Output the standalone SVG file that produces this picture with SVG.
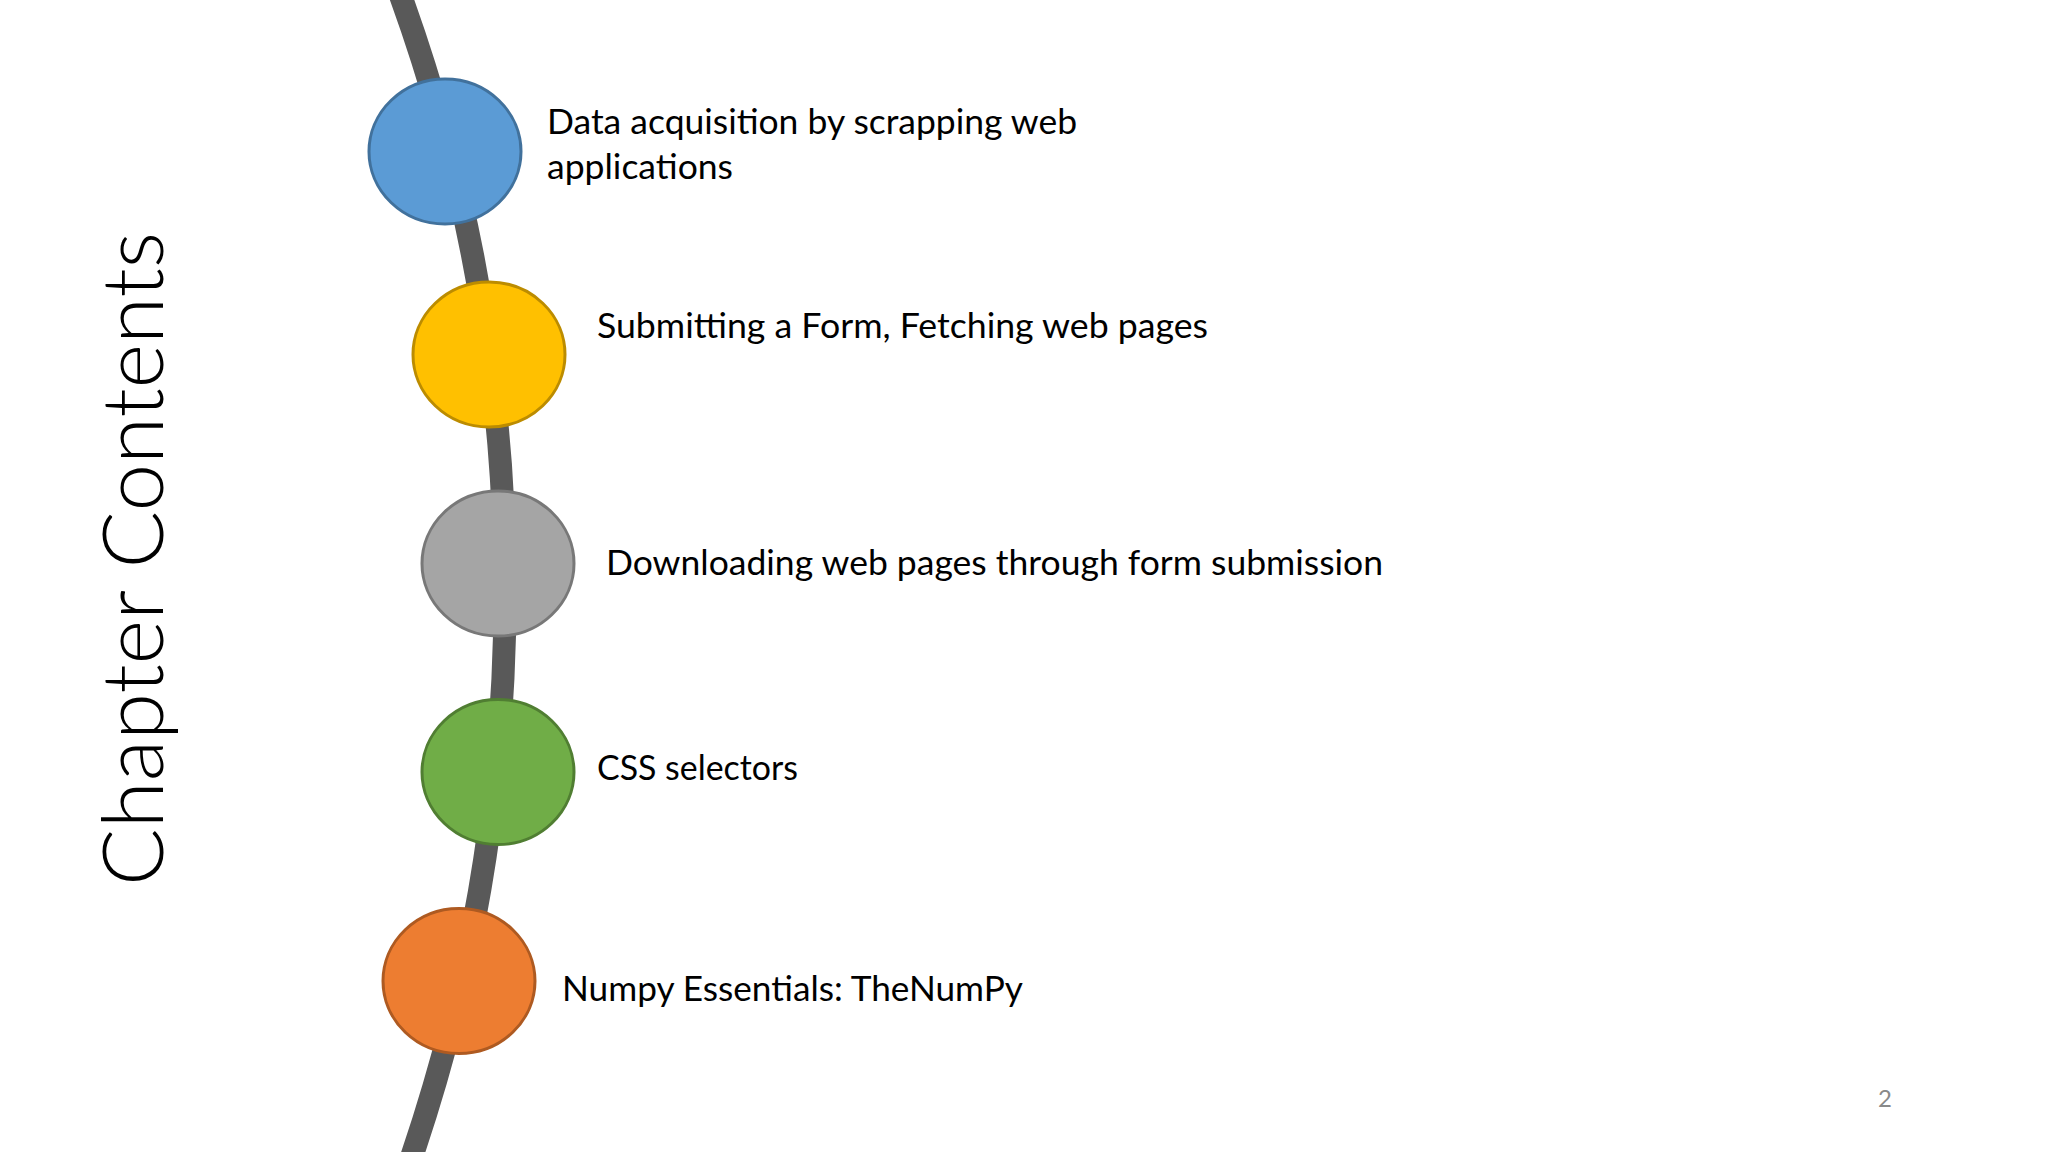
<svg xmlns="http://www.w3.org/2000/svg" width="2048" height="1152" viewBox="0 0 2048 1152">
<style>
.lbl{font-family:Lato,"Open Sans","Liberation Sans",sans-serif;font-size:35.5px;fill:#000000}
.dot{stroke-width:3}
.title{font-family:Lato,"Open Sans","Liberation Sans",sans-serif;font-weight:300;font-size:85px;fill:#000000}
.pg{font-family:Lato,"Open Sans","Liberation Sans",sans-serif;font-size:24px;fill:#898989}
</style>
<rect width="2048" height="1152" fill="#ffffff"/>
<g id="connectors">
<path d="M 398.5 -10 A 1755 1755 0 0 1 409.9 1162" fill="none" stroke="#595959" stroke-width="23"/>
</g>
<text class="title" transform="translate(163,886) rotate(-90)" textLength="654" lengthAdjust="spacingAndGlyphs">Chapter Contents</text>
<g id="node1">
<ellipse class="dot" cx="445" cy="151.5" rx="76" ry="72.5" fill="#5B9BD5" stroke="#41719C"/>
<text class="lbl" x="547" y="134" textLength="530" lengthAdjust="spacingAndGlyphs">Data acquisition by scrapping web</text>
<text class="lbl" x="547" y="179" textLength="186" lengthAdjust="spacingAndGlyphs">applications</text>
</g>
<g id="node2">
<ellipse class="dot" cx="489" cy="354.5" rx="76" ry="72.5" fill="#FFC000" stroke="#BC8C00"/>
<text class="lbl" x="597" y="338" textLength="611" lengthAdjust="spacingAndGlyphs">Submitting a Form, Fetching web pages</text>
</g>
<g id="node3">
<ellipse class="dot" cx="498" cy="563.5" rx="76" ry="72.5" fill="#A5A5A5" stroke="#787878"/>
<text class="lbl" x="606" y="575" textLength="777" lengthAdjust="spacingAndGlyphs">Downloading web pages through form submission</text>
</g>
<g id="node4">
<ellipse class="dot" cx="498" cy="772" rx="76" ry="72.5" fill="#70AD47" stroke="#507E32"/>
<text class="lbl" x="597" y="780" textLength="201" lengthAdjust="spacingAndGlyphs">CSS selectors</text>
</g>
<g id="node5">
<ellipse class="dot" cx="459" cy="981" rx="76" ry="72.5" fill="#ED7D31" stroke="#AE5A21"/>
<text class="lbl" x="562" y="1001" textLength="461" lengthAdjust="spacingAndGlyphs">Numpy Essentials: TheNumPy</text>
</g>
<text class="pg" x="1878" y="1107">2</text>
</svg>
